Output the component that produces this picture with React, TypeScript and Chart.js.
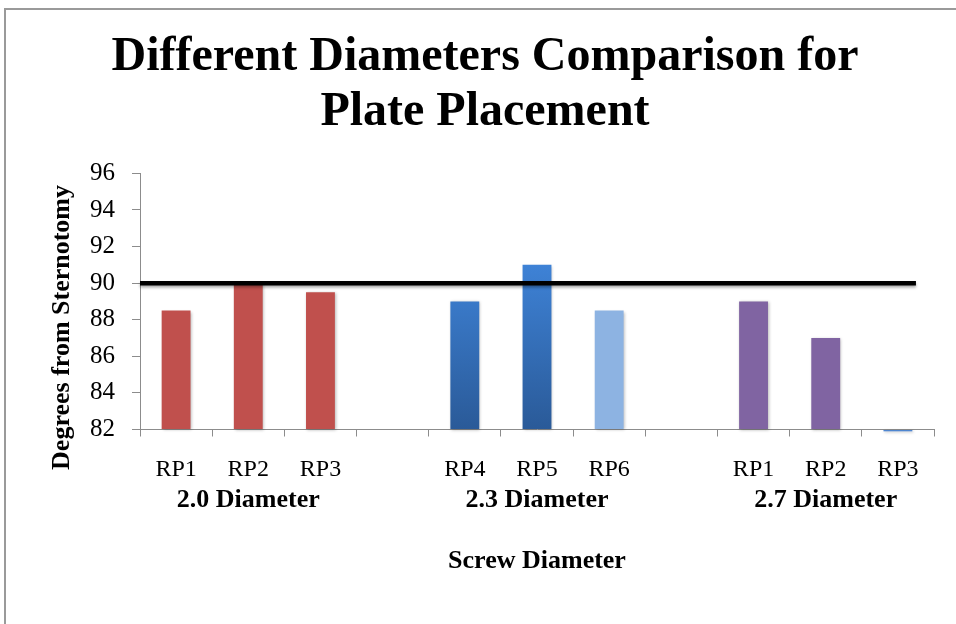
import React, { useEffect, useRef } from 'react';
import { Chart, registerables } from 'chart.js';

Chart.register(...registerables);

// ---- data ----
const chartTitle = ['Different Diameters Comparison for', 'Plate Placement'];
const categories = ['RP1', 'RP2', 'RP3', '', 'RP4', 'RP5', 'RP6', '', 'RP1', 'RP2', 'RP3'];
const groupLabels = ['', '2.0 Diameter', '', '', '', '2.3 Diameter', '', '', '', '2.7 Diameter', ''];
const degrees: (number | null)[] = [88.5, 90, 89.5, null, 89, 91, 88.5, null, 89, 87, 81.9];
const yMin = 82;
const yMax = 96;
const yStep = 2;
const referenceValue = 90;
const xAxisTitle = 'Screw Diameter';
const yAxisTitle = 'Degrees from Sternotomy';

// ---- styles ----
const FONT = "'Liberation Serif', 'Times New Roman', Times, serif";
const AXIS_GREY = '#8c8c8c';
const RED = '#C0504D';
const LIGHT_BLUE = '#8DB3E2';
const PURPLE = '#8064A2';
const MID_BLUE = '#4F86D0';
const barKinds = ['red', 'red', 'red', '', 'grad', 'grad', 'light', '', 'purple', 'purple', 'mid'];

function barColor(ctx: any) {
  const kind = barKinds[ctx.dataIndex];
  if (kind === 'red') return RED;
  if (kind === 'light') return LIGHT_BLUE;
  if (kind === 'purple') return PURPLE;
  if (kind === 'mid') return MID_BLUE;
  const chart = ctx.chart;
  const area = chart.chartArea;
  if (!area) return '#336BB5';
  const y = chart.scales.y;
  const top = y.getPixelForValue(yMax - 5);
  const g = chart.ctx.createLinearGradient(0, top, 0, area.bottom);
  g.addColorStop(0, '#3E82D6');
  g.addColorStop(1, '#2A5A98');
  return g;
}

const shadowAndLine = {
  id: 'shadowAndLine',
  beforeDatasetsDraw(chart: any) {
    const c = chart.ctx;
    c.save();
    c.shadowColor = 'rgba(0,0,0,0.28)';
    c.shadowBlur = 3;
    c.shadowOffsetX = 1;
    c.shadowOffsetY = 1;
  },
  afterDatasetsDraw(chart: any) {
    const c = chart.ctx;
    c.restore();
    const xs = chart.scales.x;
    const ys = chart.scales.y;
    const py = ys.getPixelForValue(referenceValue);
    const x0 = chart.chartArea.left;
    const step = xs.getPixelForValue(1) - xs.getPixelForValue(0);
    const x1 = xs.getPixelForValue(categories.length - 1) + step / 4;
    c.save();
    c.shadowColor = 'rgba(0,0,0,0.35)';
    c.shadowBlur = 3;
    c.shadowOffsetY = 2;
    c.strokeStyle = '#000';
    c.lineWidth = 4.5;
    c.beginPath();
    c.moveTo(x0, py);
    c.lineTo(x1, py);
    c.stroke();
    c.restore();
  },
};

const NBSP = '\u00A0';

export default function App() {
  const ref = useRef<HTMLCanvasElement>(null);

  useEffect(() => {
    if (!ref.current) return;
    Chart.defaults.font.family = FONT;
    const chart = new Chart(ref.current, {
      type: 'bar',
      data: {
        labels: categories,
        datasets: [
          {
            data: degrees as any,
            backgroundColor: barColor as any,
            borderWidth: 0,
            categoryPercentage: 1,
            barPercentage: 0.4,
            base: yMin,
            clip: false as any,
          } as any,
        ],
      },
      options: {
        responsive: false,
        animation: false,
        layout: { padding: { left: 14, right: 0, top: 0, bottom: 0 } },
        plugins: {
          legend: { display: false },
          tooltip: { enabled: false },
          title: {
            display: true,
            text: chartTitle,
            color: '#000',
            font: { family: FONT, size: 48, weight: 'bold', lineHeight: 1.15 },
            padding: { top: 30, bottom: 33 },
          },
        },
        scales: {
          x: {
            type: 'category',
            offset: true,
            grid: {
              display: true,
              drawOnChartArea: false,
              drawTicks: true,
              tickLength: 7,
              color: AXIS_GREY,
              offset: true,
            },
            border: { display: true, color: AXIS_GREY },
            ticks: {
              color: '#000',
              font: { family: FONT, size: 24 },
              padding: 19.1,
              autoSkip: false,
              maxRotation: 0,
            },
            afterFit: (s: any) => {
              s.height = 55;
            },
          },
          x2: {
            type: 'category',
            position: 'bottom',
            labels: groupLabels,
            offset: true,
            weight: 1,
            grid: { display: false, drawTicks: false },
            border: { display: false },
            ticks: {
              color: '#000',
              font: { family: FONT, size: 26, weight: 'bold' },
              padding: 0,
              autoSkip: false,
              maxRotation: 0,
            },
            title: {
              display: true,
              text: xAxisTitle,
              color: '#000',
              font: { family: FONT, size: 26, weight: 'bold' },
              padding: { top: 29.7, bottom: 47.4 },
            },
          },
          y: {
            min: yMin,
            max: yMax,
            ticks: {
              stepSize: yStep,
              color: '#000',
              font: { family: FONT, size: 25 },
              padding: 17,
            },
            grid: {
              drawOnChartArea: false,
              drawTicks: true,
              tickLength: 8,
              color: AXIS_GREY,
            },
            border: { display: true, color: AXIS_GREY },
            title: {
              display: true,
              text: yAxisTitle + NBSP.repeat(8),
              color: '#000',
              font: { family: FONT, size: 26, weight: 'bold' },
              padding: { top: 32.4, bottom: 0 },
            },
            afterFit: (s: any) => {
              s.width = 126;
            },
          },
          yRight: {
            type: 'linear',
            position: 'right',
            display: true,
            grid: { display: false, drawTicks: false },
            border: { display: false },
            ticks: { display: false },
            afterFit: (s: any) => {
              s.width = 22;
            },
          },
        } as any,
      },
      plugins: [shadowAndLine],
    });
    return () => chart.destroy();
  }, []);

  return (
    <div style={{ position: 'fixed', left: 0, top: 0, width: 956, height: 624, background: '#fff', overflow: 'hidden' }}>
      <div
        style={{
          position: 'absolute',
          left: 4,
          top: 8,
          width: 1000,
          height: 700,
          borderTop: '2px solid #9a9a9a',
          borderLeft: '2px solid #9a9a9a',
        }}
      />
      <canvas ref={ref} width={956} height={624} style={{ position: 'absolute', left: 0, top: 0, width: 956, height: 624 }} />
    </div>
  );
}
